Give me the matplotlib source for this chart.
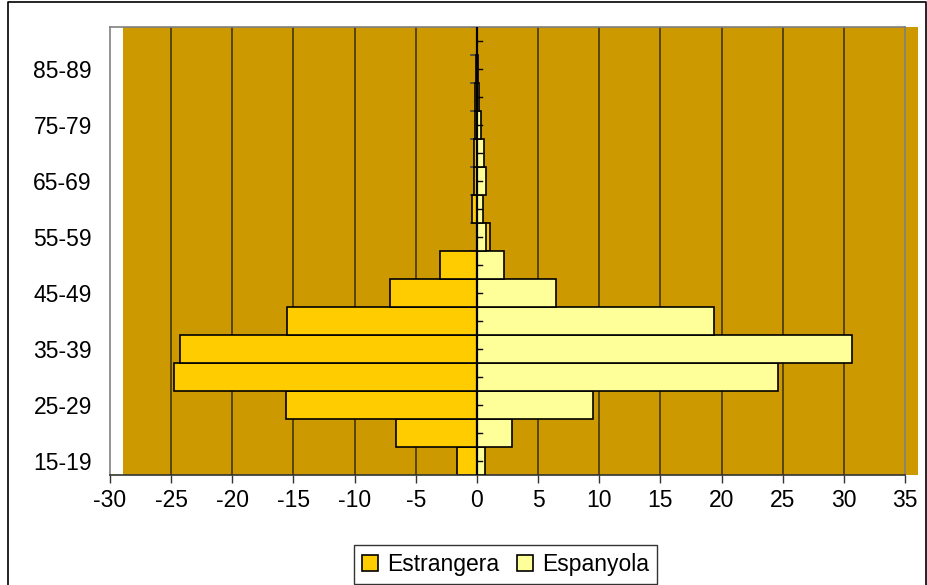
import matplotlib
matplotlib.use("Agg")
import matplotlib.pyplot as plt
import matplotlib.transforms as mtransforms
from matplotlib.patches import Rectangle
from matplotlib.lines import Line2D

plt.rcParams["font.family"] = ["Liberation Sans", "DejaVu Sans"]

# age groups, bottom to top
ages = ["15-19", "20-24", "25-29", "30-34", "35-39", "40-44", "45-49", "50-54",
        "55-59", "60-64", "65-69", "70-74", "75-79", "80-84", "85-89", "90+"]
# % of each population per age group (foreign drawn to the left)
estrangera = [-1.6, -6.6, -15.6, -24.8, -24.3, -15.5, -7.1, -3.0,
              1.05, -0.41, -0.27, -0.2, -0.15, -0.15, -0.1, -0.02]
espanyola = [0.7, 2.85, 9.45, 24.6, 30.7, 19.4, 6.5, 2.2,
             0.77, 0.49, 0.77, 0.57, 0.36, 0.15, 0.12, 0.02]
xticks = list(range(-30, 36, 5))

GOLD = "#CC9900"
C_EST = "#FFCC00"
C_ESP = "#FFFF99"
FS = 16.5

fig = plt.figure(figsize=(9.28, 5.85), dpi=100)
ax = fig.add_axes([110 / 928, 110 / 585, 795 / 928, 448 / 585])
ax.set_xlim(-30, 35)
ax.set_ylim(-0.5, len(ages) - 0.5)
ax.set_facecolor("white")

# plot-area fill (sits one unit to the right of the frame)
trans = mtransforms.blended_transform_factory(ax.transData, ax.transAxes)
ax.add_patch(Rectangle((-28.94, 0), 65, 1, transform=trans, facecolor=GOLD,
                       edgecolor="none", clip_on=False, zorder=0))

for x in xticks[1:-1]:
    ax.axvline(x, color="#3a2e00", lw=1.1, zorder=1)

pos = list(range(len(ages)))
ax.barh(pos, estrangera, height=1.0, color=C_EST, edgecolor="black", lw=1.2,
        label="Estrangera", zorder=2)
ax.barh(pos, espanyola, height=1.0, color=C_ESP, edgecolor="black", lw=1.2,
        label="Espanyola", zorder=3)

# central category axis
ax.axvline(0, color="black", lw=1.6, zorder=4)
tick_len = 6 / 12.23
for i in range(len(ages) + 1):
    ax.plot([-tick_len, 0], [i - 0.5, i - 0.5], color="#444444", lw=1.2, zorder=1.5)
for i in pos:
    ax.plot([0, tick_len * 0.8], [i, i], color="black", lw=1.0, zorder=5)

for s in ["left", "right", "top"]:
    ax.spines[s].set_color("#808080")
    ax.spines[s].set_linewidth(1.2)
ax.spines["bottom"].set_color("#333333")
ax.spines["bottom"].set_linewidth(1.2)

ax.set_xticks(xticks)
ax.set_xticklabels([str(v) for v in xticks])
ax.tick_params(axis="x", direction="out", length=6, width=1, color="#333333",
               labelsize=FS, pad=4)
ax.set_yticks(pos[::2])
ax.set_yticklabels(ages[::2])
ax.tick_params(axis="y", length=0, labelsize=FS, pad=13)

handles = [Rectangle((0, 0), 1, 1, facecolor=C_EST, edgecolor="black", lw=1.2),
           Rectangle((0, 0), 1, 1, facecolor=C_ESP, edgecolor="black", lw=1.2)]
leg = fig.legend(handles, ["Estrangera", "Espanyola"], loc="upper center",
                 bbox_to_anchor=(505.5 / 928, 1 - 545 / 585), ncol=2,
                 fontsize=FS, frameon=True, fancybox=False, handlelength=0.7,
                 handleheight=0.7, handletextpad=0.4, columnspacing=0.8,
                 borderpad=0.35, borderaxespad=0)
leg.get_frame().set_edgecolor("black")
leg.get_frame().set_linewidth(1.0)

# chart-area border
fig.add_artist(Line2D([8 / 928, 8 / 928, 926 / 928, 926 / 928],
                      [0, 1 - 2 / 585, 1 - 2 / 585, 0],
                      transform=fig.transFigure, color="black", lw=1.2))

fig.savefig("out.png", dpi=100)
